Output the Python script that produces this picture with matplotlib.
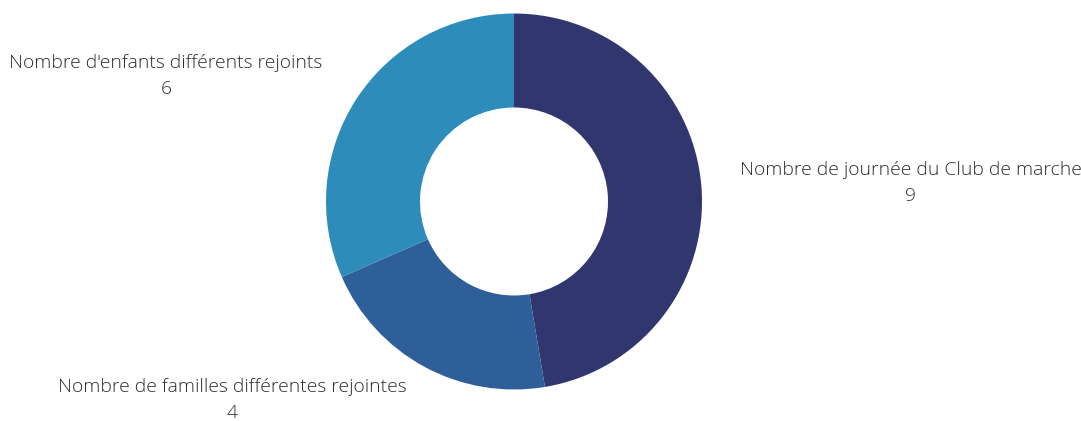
import matplotlib
matplotlib.use("Agg")
import matplotlib.pyplot as plt

categories = ["Nombre de journée du Club de marche",
              "Nombre de familles différentes rejointes",
              "Nombre d'enfants différents rejoints"]
values = [9, 4, 6]
colors = ["#32366e", "#2f5f98", "#2e8cba"]

W, H = 1081, 421
fig = plt.figure(figsize=(W / 100, H / 100), dpi=100)
ax = fig.add_axes([0, 0, 1, 1])
cx, cy, R = 514, H - 201.5, 188
ax.pie(values, colors=colors, startangle=90, counterclock=False,
       radius=R, center=(cx, cy),
       wedgeprops=dict(width=R - 94, linewidth=0))
ax.set_xlim(0, W)
ax.set_ylim(0, H)
ax.set_aspect("auto")
ax.axis("off")

font = dict(family=["Open Sans", "DejaVu Sans"], fontweight="light",
            fontsize=13.9, color="#2e2e2e", ha="center", va="center",
            linespacing=1.55)
label_pos = [(911, H - 183), (232, H - 400), (166, H - 76)]
for cat, val, (x, y) in zip(categories, values, label_pos):
    ax.text(x, y, f"{cat}\n{val}", **font)

fig.savefig("out.png", dpi=100)
